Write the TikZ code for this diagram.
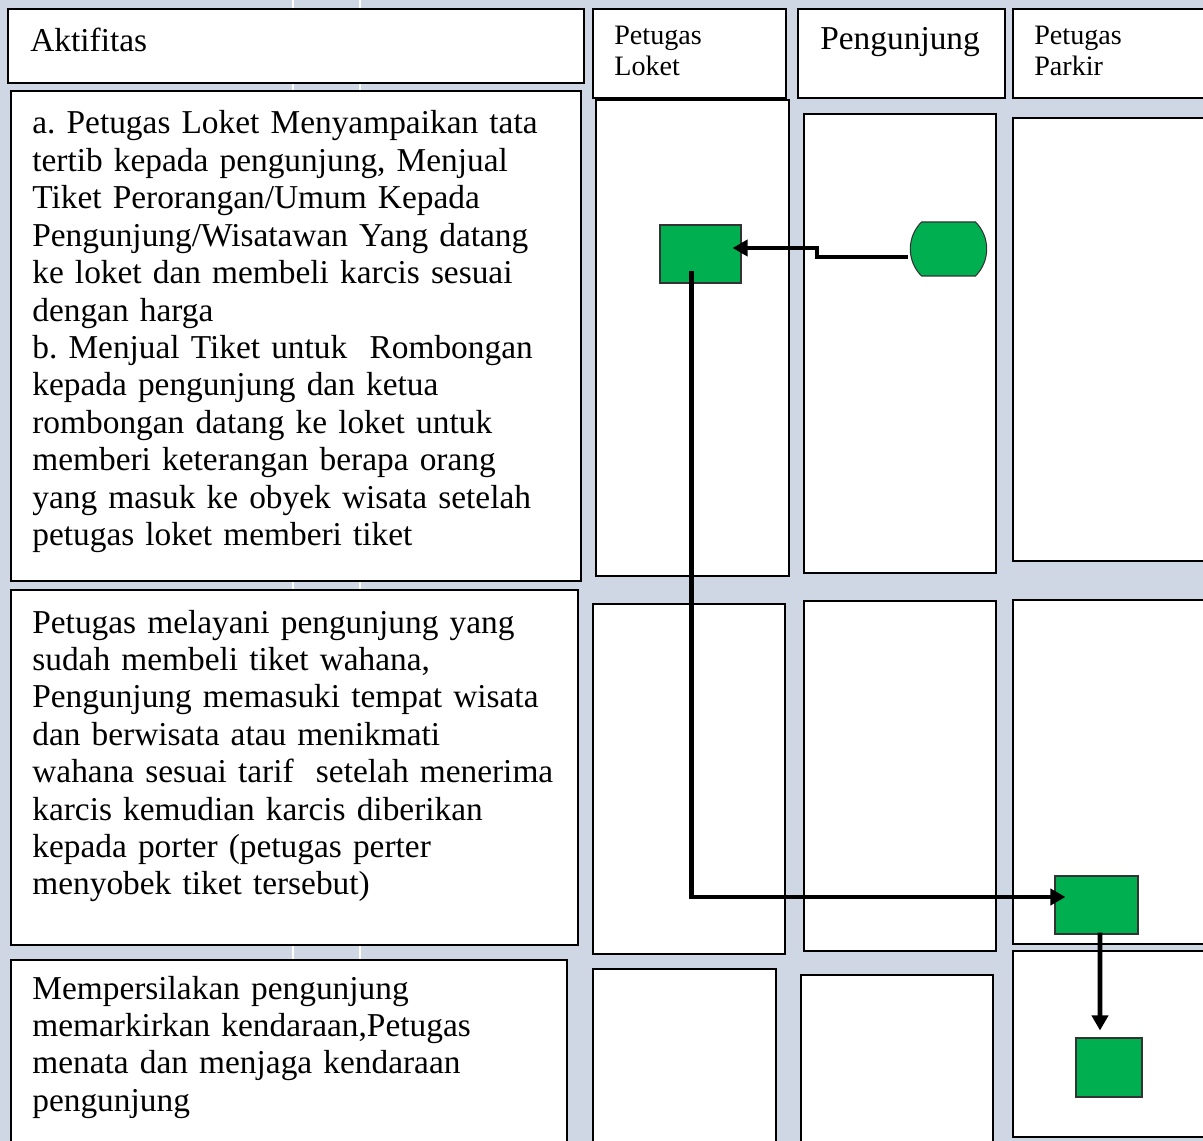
\documentclass[tikz,border=0pt]{standalone}
\usepackage{fontspec}
\setmainfont{Liberation Serif}
\usepackage{tikz}
\usetikzlibrary{arrows.meta,shapes,fit,calc}
\definecolor{lajur}{RGB}{207,214,228}
\definecolor{hijau}{RGB}{0,176,80}
\newcommand{\garis}{1.1pt}
\newcommand{\panah}{2.6pt}
\frenchspacing

\begin{document}
\begin{tikzpicture}[x=0.02cm,y=-0.02cm,
    kotak/.style={draw=black,line width=\garis,fill=white,inner sep=0pt,fit={#1}},
    isi/.style={anchor=base west,inner sep=0pt,align=left,text width=11.4cm,
        font=\fontsize{19}{21.3}\selectfont},
    judul/.style={anchor=base west,inner sep=0pt,align=left,text width=3.6cm,
        font=\fontsize{16}{17.4}\selectfont},
    proses/.style={draw=black!80,line width=0.6pt,fill=hijau,inner sep=0pt},
    alur/.style={line width=\panah,-{Triangle[length=0.3cm,width=0.32cm]}}]
            %\draw[help lines] (0,0) grid[step=100] (1203,1141);
            \useasboundingbox (0,0) rectangle (1203,1141);
            \fill[lajur] (0,0) rectangle (1203,1141);
            \draw[white,line width=0.8pt] (293,0) -- (293,1141) (360,0) -- (360,1141);

            % kepala tabel
            \node[kotak={(8,9) (584,83)}] (hAkt) {};
            \node[kotak={(593,9) (786,98)}] (hLoket) {};
            \node[kotak={(798,9) (1005,98)}] (hPeng) {};
            \node[kotak={(1013,9) (1212,98)}] (hParkir) {};
            \node[isi] (tAkt) at (30,52) {Aktifitas};
            \node[judul] (tLoket) at (614,45) {Petugas\\Loket};
            \node[isi] (tPeng) at (820,50) {Pengunjung};
            \node[judul] (tParkir) at (1034,45) {Petugas\\Parkir};

            % baris 1
            \node[kotak={(11,91) (581,581)}] (aktA) {};
            \node[kotak={(596,100) (789,576)}] (loketA) {};
            \node[kotak={(804,114) (996,573)}] (pengA) {};
            \node[kotak={(1013,118) (1212,561)}] (parkirA) {};
            \node[isi] (tA) at (32,134) {a. Petugas Loket Menyampaikan tata\\
                tertib kepada pengunjung, Menjual\\
                Tiket Perorangan/Umum Kepada\\
                Pengunjung/Wisatawan Yang datang\\
                ke loket dan membeli karcis sesuai\\
                dengan harga\\
                b. Menjual Tiket untuk~ Rombongan\\
                kepada pengunjung dan ketua\\
                rombongan datang ke loket untuk\\
                memberi keterangan berapa orang\\
                yang masuk ke obyek wisata setelah\\
                petugas loket memberi tiket};

            % baris 2
            \node[kotak={(11,590) (578,945)}] (aktB) {};
            \node[kotak={(593,604) (785,954)}] (loketB) {};
            \node[kotak={(804,601) (996,951)}] (pengB) {};
            \node[kotak={(1013,600) (1212,944)}] (parkirB) {};
            \node[isi] (tB) at (32,633) {Petugas melayani pengunjung yang\\
                sudah membeli tiket wahana,\\
                Pengunjung memasuki tempat wisata\\
                dan berwisata atau menikmati\\
                wahana sesuai tarif~ setelah menerima\\
                karcis kemudian karcis diberikan\\
                kepada porter (petugas perter\\
                menyobek tiket tersebut)};

            % baris 3
            \node[kotak={(11,960) (567,1150)}] (aktC) {};
            \node[kotak={(593,969) (776,1150)}] (loketC) {};
            \node[kotak={(801,975) (993,1150)}] (pengC) {};
            \node[kotak={(1013,951) (1212,1137)}] (parkirC) {};
            \node[isi] (tC) at (32,999) {Mempersilakan pengunjung\\
                memarkirkan kendaraan,Petugas\\
                menata dan menjaga kendaraan\\
                pengunjung};

            % simbol alur
            \node[proses,minimum width=1.62cm,minimum height=1.16cm] (tiket) at (700.5,254) {};
            \node[proses,rounded rectangle,rounded rectangle arc length=90,
                minimum width=1.22cm,minimum height=1.08cm] (datang) at (948.5,249) {};
            \node[proses,minimum width=1.66cm,minimum height=1.16cm] (wahana) at (1096.5,905) {};
            \node[proses,minimum width=1.32cm,minimum height=1.18cm] (parkir) at (1109,1067.5) {};

            \draw[alur] (datang.west) ++(-2,8) -- ++(-91,0) |- ($(tiket.east)+(-9,-6)$);
            \draw[alur] ($(tiket.south)+(-9,-13)$) |- ($(wahana.west)+(11,-8)$);
            \draw[alur] ($(wahana.south)+(3.5,-2)$) -- ($(parkir.north)+(-9,-7)$);
        \end{tikzpicture}
\end{document}
